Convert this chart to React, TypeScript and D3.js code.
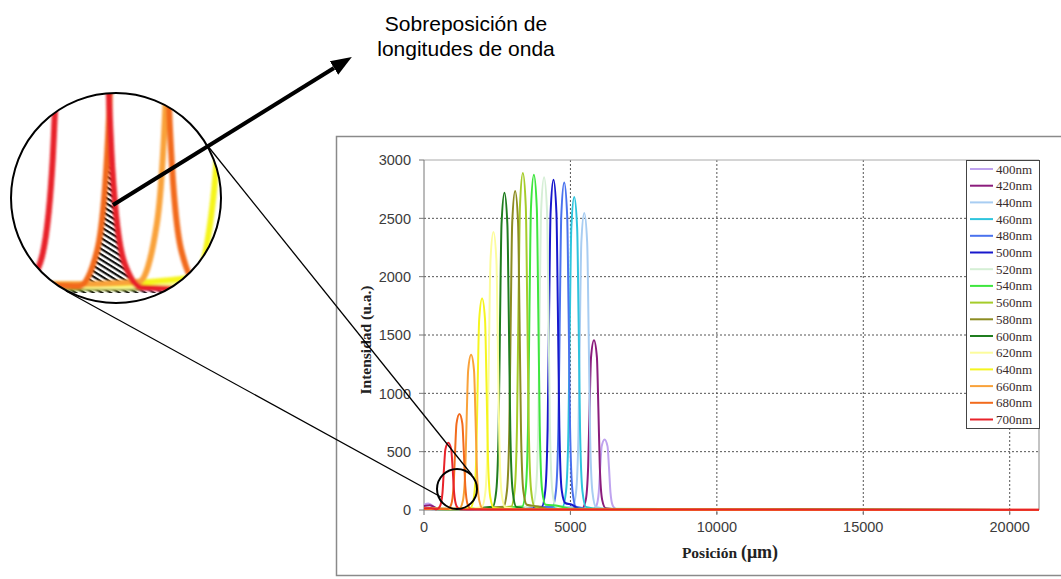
import React from "react";
import * as d3 from "d3";

const W = 1061;
const H = 579;

// legend labels and line colours, 400nm first
const wavelengths = ["400nm", "420nm", "440nm", "460nm", "480nm", "500nm", "520nm", "540nm",
  "560nm", "580nm", "600nm", "620nm", "640nm", "660nm", "680nm", "700nm"];
const colors = ["#bfa3ef", "#8b1c7c", "#a8cdf2", "#2ec4dd", "#4a72ee", "#1818cc", "#d5efd5", "#3ee63e",
  "#a5cc2a", "#8c8c22", "#1f7d1f", "#fcfc9c", "#f5f51f", "#f9a23a", "#f26b1d", "#e8232a"];

// [posicion (um), intensidad (u.a.)]
const s400 = [[0, 45], [150, 55], [450, 12], [1500, 5], [5767, 6], [5887, 36], [5967, 151], [6017, 363], [6067, 545], [6167, 605], [6267, 545], [6317, 363], [6367, 151], [6447, 36], [6567, 6], [7200, 2], [21000, 0]];
const s420 = [[0, 35], [200, 40], [500, 10], [1500, 6], [5404, 15], [5524, 87], [5604, 364], [5654, 873], [5704, 1310], [5804, 1455], [5904, 1310], [5954, 873], [6004, 364], [6084, 87], [6204, 15], [6800, 3], [21000, 0]];
const s440 = [[0, 18], [600, 8], [5072, 25], [5192, 153], [5272, 636], [5322, 1527], [5372, 2291], [5472, 2545], [5572, 2291], [5622, 1527], [5672, 636], [5752, 153], [5872, 25], [6500, 3], [21000, 0]];
const s460 = [[0, 15], [600, 8], [4730, 27], [4850, 161], [4930, 671], [4980, 1609], [5030, 2414], [5130, 2682], [5230, 2414], [5280, 1609], [5330, 671], [5410, 161], [5530, 27], [6200, 3], [21000, 0]];
const s480 = [[0, 12], [700, 8], [4388, 28], [4508, 168], [4588, 702], [4638, 1685], [4688, 2527], [4788, 2808], [4888, 2527], [4938, 1685], [4988, 702], [5068, 168], [5188, 28], [5900, 3], [21000, 0]];
const s500 = [[0, 10], [700, 6], [4022, 28], [4142, 170], [4222, 708], [4272, 1699], [4322, 2548], [4422, 2831], [4522, 2548], [4572, 1699], [4622, 708], [4702, 170], [4822, 60], [5050, 45], [5300, 10], [6000, 2], [21000, 0]];
const s520 = [[0, 10], [800, 6], [3700, 29], [3820, 171], [3900, 713], [3950, 1712], [4000, 2568], [4100, 2853], [4200, 2568], [4250, 1712], [4300, 713], [4380, 171], [4500, 29], [5200, 3], [21000, 0]];
const s540 = [[0, 10], [900, 6], [3352, 29], [3472, 172], [3552, 719], [3602, 1724], [3652, 2587], [3752, 2874], [3852, 2587], [3902, 1724], [3952, 719], [4032, 172], [4152, 45], [4600, 35], [5000, 10], [21000, 0]];
const s560 = [[0, 10], [1000, 6], [2976, 29], [3096, 173], [3176, 722], [3226, 1733], [3276, 2599], [3376, 2888], [3476, 2599], [3526, 1733], [3576, 722], [3656, 173], [3776, 29], [4400, 3], [21000, 0]];
const s580 = [[0, 10], [1000, 6], [2712, 27], [2832, 164], [2912, 684], [2962, 1640], [3012, 2461], [3112, 2734], [3212, 2461], [3262, 1640], [3312, 684], [3392, 164], [3512, 45], [3900, 30], [4300, 5], [21000, 0]];
const s600 = [[0, 10], [1000, 8], [2347, 27], [2467, 163], [2547, 680], [2597, 1632], [2647, 2448], [2747, 2720], [2847, 2448], [2897, 1632], [2947, 680], [3027, 163], [3147, 27], [3800, 3], [21000, 0]];
const s620 = [[0, 10], [1100, 8], [1971, 24], [2091, 143], [2171, 596], [2221, 1430], [2271, 2145], [2371, 2383], [2471, 2145], [2521, 1430], [2571, 596], [2651, 143], [2771, 24], [3400, 3], [21000, 0]];
const s640 = [[0, 10], [900, 10], [1584, 18], [1704, 109], [1784, 453], [1834, 1087], [1884, 1631], [1984, 1812], [2084, 1631], [2134, 1087], [2184, 453], [2264, 109], [2384, 18], [3000, 4], [21000, 0]];
const s660 = [[0, 12], [700, 10], [1208, 13], [1328, 80], [1408, 333], [1458, 798], [1508, 1197], [1608, 1330], [1708, 1197], [1758, 798], [1808, 333], [1888, 80], [2008, 13], [2600, 4], [21000, 0]];
const s680 = [[0, 12], [500, 10], [810, 8], [930, 49], [1010, 206], [1060, 493], [1110, 740], [1210, 822], [1310, 740], [1360, 493], [1410, 206], [1490, 49], [1610, 8], [2200, 4], [21000, 2]];
const s700 = [[0, 12], [250, 15], [430, 6], [550, 35], [630, 144], [680, 346], [730, 518], [830, 576], [930, 518], [980, 346], [1030, 144], [1110, 35], [1230, 6], [1700, 4], [21000, 3]];

const series = [s400, s420, s440, s460, s480, s500, s520, s540, s560, s580, s600, s620, s640, s660, s680, s700];

// plot box
const left = 424, right = 1039, top = 160, bottom = 510;

// magnifier (big circle) and the spot it looks at (small circle)
const mag = { cx: 116, cy: 198, r: 105 };
const spot = { cx: 457, cy: 489, r: 20 };

const serif = "'Liberation Serif', 'Times New Roman', serif";
const sans = "'Liberation Sans', Arial, sans-serif";

export default function App() {
  const x = d3.scaleLinear().domain([0, 21000]).range([left, right]);
  const y = d3.scaleLinear().domain([0, 3000]).range([bottom, top]);

  const line = d3.line<number[]>()
    .x((d) => x(d[0]))
    .y((d) => y(d[1]))
    .curve(d3.curveMonotoneX);

  // zoomed view inside the magnifier
  const xm = d3.scaleLinear().domain([355, 1755]).range([11, 221]);
  const ym = d3.scaleLinear().domain([0, 230]).range([293, 92]);
  const lineM = d3.line<number[]>().x((d) => xm(d[0])).y((d) => ym(d[1])).curve(d3.curveMonotoneX);
  const areaM = d3.area<number[]>().x((d) => xm(d[0])).y0(ym(0)).y1((d) => ym(d[1])).curve(d3.curveMonotoneX);

  const xTicks = x.ticks(5);
  const yTicks = y.ticks(6);

  const legX = 966, legY = 160, legW = 73, legH = 268, legStep = 16.7;

  return (
    <svg width={W} height={H} style={{ position: "absolute", left: 0, top: 0, background: "#fff" }}>
      <defs>
        <clipPath id="magClip">
          <circle cx={mag.cx} cy={mag.cy} r={mag.r} />
        </clipPath>
        <clipPath id="overlap">
          <path d={areaM(s680) || ""} />
        </clipPath>
        <pattern id="hatch" width="4.6" height="4.6" patternUnits="userSpaceOnUse" patternTransform="rotate(32)">
          <rect width="4.6" height="4.6" fill="#fff" />
          <rect width="4.6" height="2.2" fill="#111" />
        </pattern>
        <filter id="soft" x="-10%" y="-10%" width="120%" height="120%">
          <feGaussianBlur stdDeviation="1.1" />
        </filter>
        <marker id="head" markerUnits="userSpaceOnUse" markerWidth="22" markerHeight="18"
          refX="0" refY="9" orient="auto">
          <path d="M0,1 L21,9 L0,17 Z" fill="#000" />
        </marker>
      </defs>

      {/* chart frame */}
      <rect x={336.5} y={136.5} width={800} height={439} fill="#fff" stroke="#8a8a8a" strokeWidth={1.5} />

      {/* grid */}
      {yTicks.filter((t) => t > 0 && t < 3000).map((t) => (
        <line key={"gy" + t} x1={left} x2={right} y1={y(t)} y2={y(t)} stroke="#555" strokeDasharray="2,2" />
      ))}
      {xTicks.filter((t) => t > 0).map((t) => (
        <line key={"gx" + t} x1={x(t)} x2={x(t)} y1={top} y2={bottom + 5} stroke="#555" strokeDasharray="2,2" />
      ))}
      <line x1={left} x2={right} y1={top} y2={top} stroke="#aaa" />
      <line x1={right} x2={right} y1={top} y2={bottom} stroke="#888" />

      {/* axes */}
      <line x1={left} x2={left} y1={top} y2={bottom} stroke="#777" />
      <line x1={left} x2={right} y1={bottom} y2={bottom} stroke="#777" />
      {yTicks.map((t) => (
        <g key={"ty" + t}>
          <line x1={left - 5} x2={left} y1={y(t)} y2={y(t)} stroke="#777" />
          <text x={411} y={y(t)} dy="0.36em" textAnchor="end" fontFamily={sans} fontSize={14.5} fill="#3c3c3c">{t}</text>
        </g>
      ))}
      {xTicks.map((t) => (
        <g key={"tx" + t}>
          <line x1={x(t)} x2={x(t)} y1={bottom} y2={bottom + 5} stroke="#777" />
          <text x={x(t)} y={532} textAnchor="middle" fontFamily={sans} fontSize={14.5} fill="#3c3c3c">{t}</text>
        </g>
      ))}

      {/* series */}
      {series.map((s, i) => (
        <path key={wavelengths[i]} d={line(s) || ""} fill="none" stroke={colors[i]} strokeWidth={2} />
      ))}

      {/* axis titles */}
      <text transform="translate(371,340) rotate(-90)" textAnchor="middle" fontFamily={serif}
        fontWeight="bold" fontSize={15.5} fill="#222">Intensidad (u.a.)</text>
      <text x={730} y={558} textAnchor="middle" fontFamily={serif} fontWeight="bold" fontSize={15.5} fill="#222">
        Posición <tspan fontSize={18}>(μm)</tspan>
      </text>

      {/* legend */}
      <rect x={legX + 0.5} y={legY + 0.5} width={legW} height={legH} fill="#fff" stroke="#444" />
      {wavelengths.map((w, i) => (
        <g key={"lg" + w} transform={`translate(0,${legY + 9 + i * legStep})`}>
          <line x1={970} x2={993} stroke={colors[i]} strokeWidth={2} />
          <text x={996} dy="0.35em" fontFamily={serif} fontSize={13} fill="#3a2c2c">{w}</text>
        </g>
      ))}

      {/* spot circle on the chart and the connectors */}
      <circle cx={spot.cx} cy={spot.cy} r={spot.r} fill="none" stroke="#000" strokeWidth={2} />
      <line x1={207} y1={145} x2={472} y2={475} stroke="#000" strokeWidth={1.3} />
      <line x1={66} y1={291} x2={441} y2={497} stroke="#000" strokeWidth={1.3} />

      {/* magnifier */}
      <circle cx={mag.cx} cy={mag.cy} r={mag.r} fill="#fff" />
      <g clipPath="url(#magClip)">
        <path d={areaM(s700) || ""} clipPath="url(#overlap)" fill="url(#hatch)" />
        <g filter="url(#soft)">
          {series.map((s, i) => (
            <path key={"m" + wavelengths[i]} d={lineM(s) || ""} fill="none" stroke={colors[i]} strokeWidth={6} />
          ))}
        </g>
      </g>
      <circle cx={mag.cx} cy={mag.cy} r={mag.r} fill="none" stroke="#000" strokeWidth={2} />

      {/* arrow and note */}
      <line x1={113} y1={205} x2={334} y2={68} stroke="#000" strokeWidth={4} markerEnd="url(#head)" />
      <text x={466} y={31} textAnchor="middle" fontFamily={sans} fontSize={21} fill="#000">Sobreposición de</text>
      <text x={466} y={56} textAnchor="middle" fontFamily={sans} fontSize={21} fill="#000">longitudes de onda</text>
    </svg>
  );
}
